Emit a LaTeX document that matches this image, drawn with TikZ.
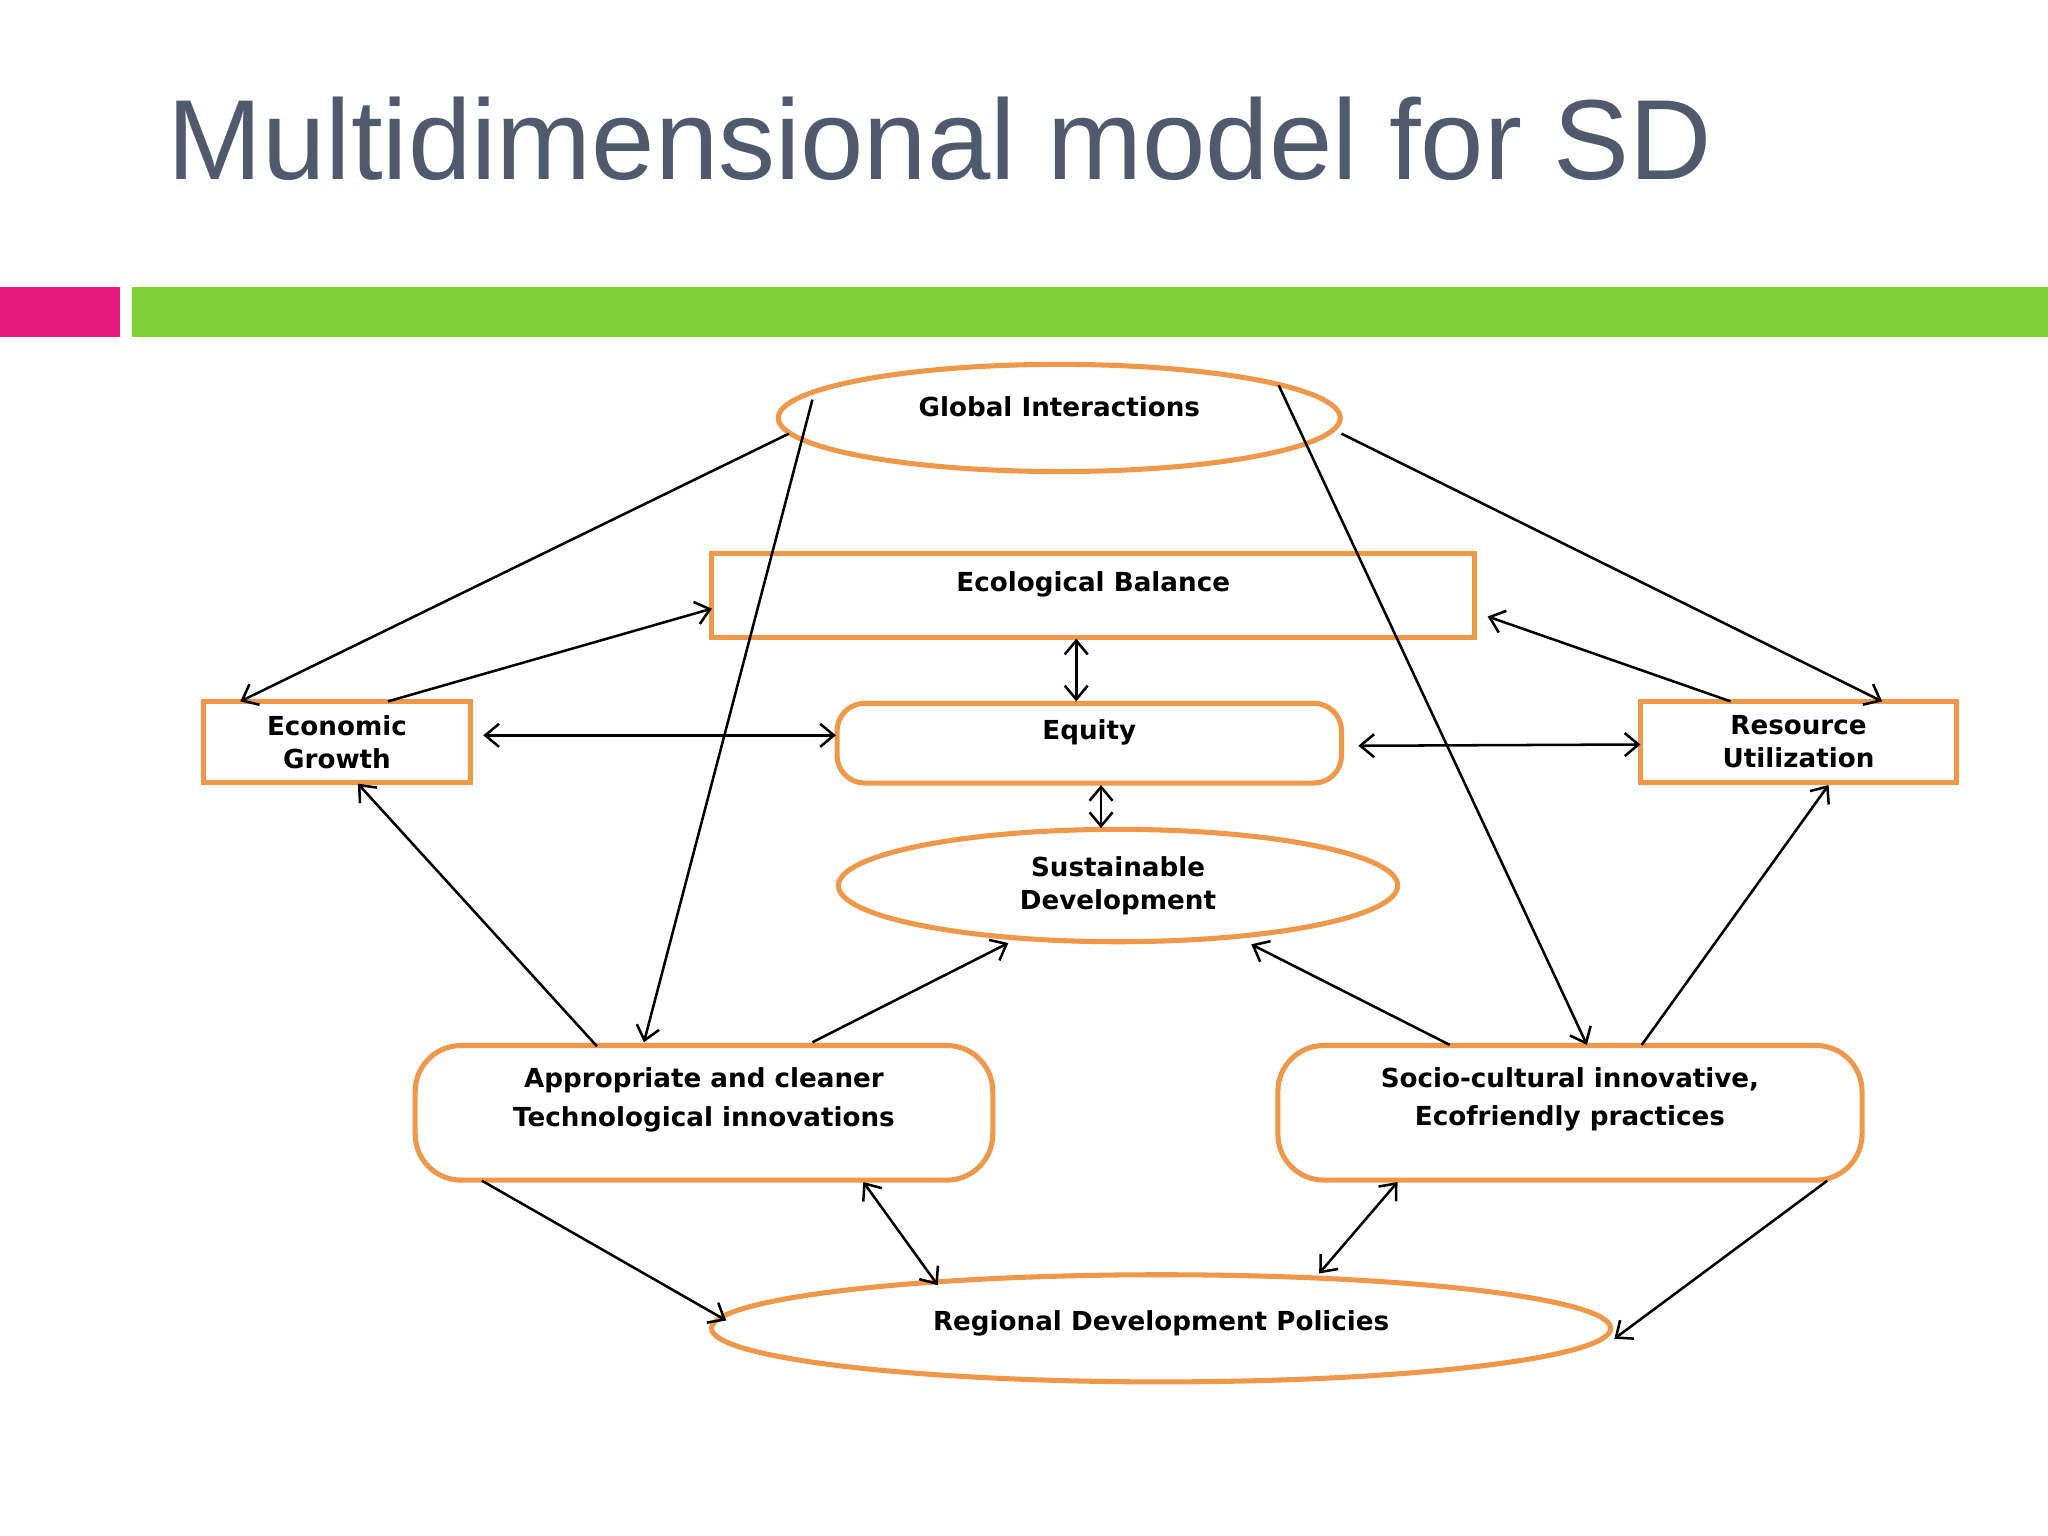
\documentclass[tikz,border=0pt]{standalone}
\usepackage{fontspec}
\setmainfont{DejaVu Sans}
\newfontfamily\titlefont{Liberation Sans}
\usetikzlibrary{arrows.meta,shapes.geometric}
\definecolor{orng}{HTML}{F0984A}
\definecolor{ttl}{HTML}{505A6E}
\definecolor{pnk}{HTML}{E8197D}
\definecolor{grn}{HTML}{82CF3C}
\begin{document}
\begin{tikzpicture}[x=0.01cm,y=-0.01cm,
  box/.style={draw=orng,line width=1.1pt,inner sep=0pt,align=center,font=\fontsize{5.7}{7.2}\selectfont\bfseries},
  ell/.style={box,ellipse},
  rbox/.style={box,rounded corners=6pt},
  arr/.style={-{Straight Barb[length=3pt,width=5pt]},line width=0.55pt},
  darr/.style={{Straight Barb[length=3pt,width=5pt]}-{Straight Barb[length=3pt,width=5pt]},line width=0.55pt}]
\useasboundingbox (0,0) rectangle (1568,1176);
\fill[white] (0,0) rectangle (1568,1176);
\node[anchor=west,text=ttl,font=\titlefont\fontsize{24.8}{28}\selectfont] (title) at (116,106) {Multidimensional model for SD};
\fill[pnk] (0,220) rectangle (92,258);
\fill[grn] (101,220) rectangle (1568,258);
\node[ell,minimum width=4.3cm,minimum height=0.82cm] (gi) at (811,320) {\raisebox{5pt}{Global Interactions}};
\node[box,minimum width=5.84cm,minimum height=0.64cm] (eb) at (837,456) {\raisebox{6pt}{Ecological Balance}};
\node[box,minimum width=2.04cm,minimum height=0.62cm] (eg) at (258,568) {Economic\\Growth};
\node[rbox,minimum width=3.86cm,minimum height=0.61cm] (eq) at (834,569) {\raisebox{6pt}{Equity}};
\node[box,minimum width=2.42cm,minimum height=0.62cm] (ru) at (1377,568) {Resource\\Utilization};
\node[ell,minimum width=4.28cm,minimum height=0.86cm] (sd) at (856,678) {Sustainable\\Development};
\node[rbox,rounded corners=10pt,minimum width=4.42cm,minimum height=1.03cm] (ap) at (539,852) {\raisebox{7pt}{\shortstack{Appropriate and cleaner\\Technological innovations}}};
\node[rbox,rounded corners=10pt,minimum width=4.47cm,minimum height=1.03cm] (sc) at (1202,852) {\raisebox{7pt}{\shortstack{Socio-cultural innovative,\\Ecofriendly practices}}};
\node[ell,minimum width=6.88cm,minimum height=0.82cm] (rd) at (889,1017) {\raisebox{3.5pt}{Regional Development Policies}};
\coordinate (a1) at (604,332); \coordinate (b1) at (184,537);
\coordinate (a2) at (622,306); \coordinate (b2) at (493,798);
\coordinate (a3) at (979,295); \coordinate (b3) at (1215,800);
\coordinate (a4) at (1027,332); \coordinate (b4) at (1441,537);
\coordinate (a5) at (297,537); \coordinate (b5) at (545,466);
\coordinate (a6) at (1325,537); \coordinate (b6) at (1139,472);
\coordinate (a7) at (370,563); \coordinate (b7) at (640,563);
\coordinate (a8) at (1040,571); \coordinate (b8) at (1256,570);
\coordinate (a9) at (824,489); \coordinate (b9) at (824,537);
\coordinate (a10) at (843,601); \coordinate (b10) at (843,634);
\coordinate (a11) at (457,801); \coordinate (b11) at (274,600);
\coordinate (a12) at (622,798); \coordinate (b12) at (772,722);
\coordinate (a13) at (1110,800); \coordinate (b13) at (958,723);
\coordinate (a14) at (1257,800); \coordinate (b14) at (1400,601);
\coordinate (a15) at (369,904); \coordinate (b15) at (556,1011);
\coordinate (a16) at (661,905); \coordinate (b16) at (718,984);
\coordinate (a17) at (1070,905); \coordinate (b17) at (1010,975);
\coordinate (a18) at (1399,904); \coordinate (b18) at (1236,1025);
\foreach \i in {1,2,3,4,5,6,11,12,13,14,15,18} \draw[arr] (a\i) -- (b\i);
\foreach \i in {7,8,9,10,16,17} \draw[darr] (a\i) -- (b\i);
\end{tikzpicture}
\end{document}
